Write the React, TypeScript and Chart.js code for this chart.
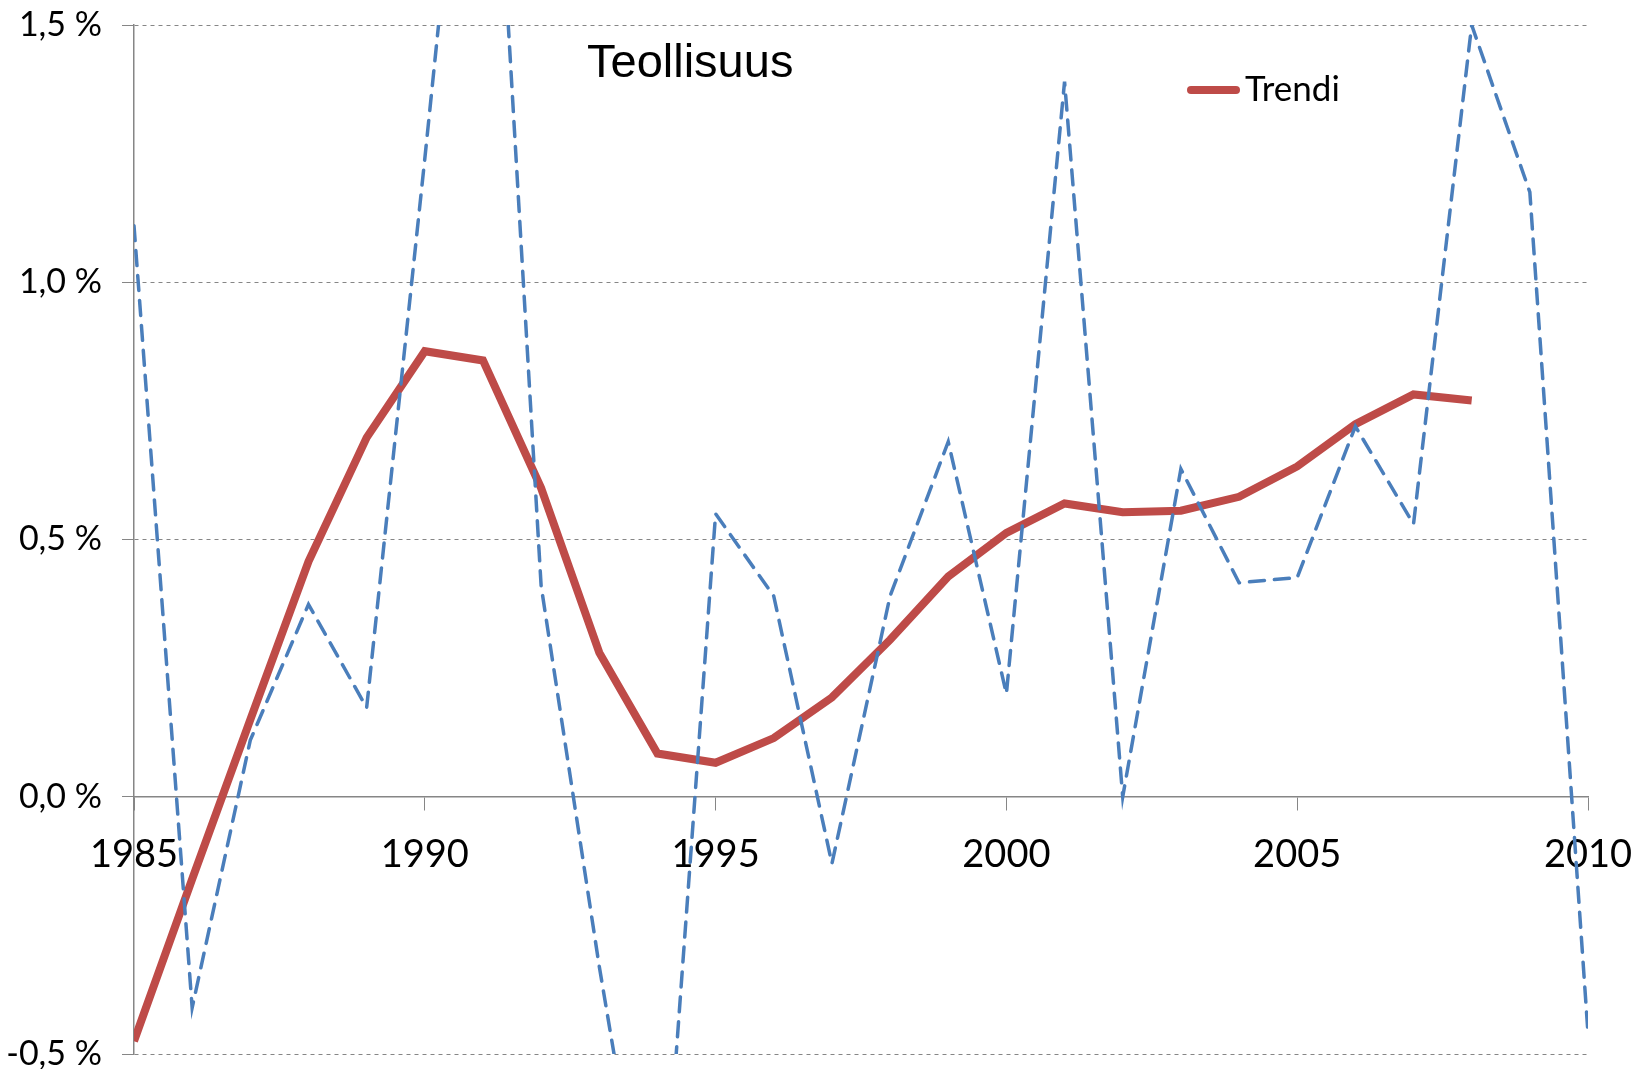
import React, { useEffect, useRef } from 'react';
import { Chart, registerables } from 'chart.js';

Chart.register(...registerables);

// ---- Data ----
const years = [
  1985, 1986, 1987, 1988, 1989, 1990, 1991, 1992, 1993, 1994, 1995, 1996, 1997,
  1998, 1999, 2000, 2001, 2002, 2003, 2004, 2005, 2006, 2007, 2008, 2009, 2010,
];
const actualValues = [
  1.11, -0.41, 0.11, 0.374, 0.173, 1.24, 2.34, 0.41, -0.33, -1.0, 0.55, 0.39, -0.13,
  0.39, 0.69, 0.20, 1.39, 0.0, 0.637, 0.416, 0.426, 0.72, 0.53, 1.50, 1.175, -0.46,
];
const trendValues = [
  -0.475, -0.16, 0.15, 0.457, 0.698, 0.866, 0.848, 0.60, 0.28, 0.084, 0.066, 0.114,
  0.193, 0.305, 0.428, 0.513, 0.57, 0.553, 0.556, 0.583, 0.642, 0.724, 0.782, 0.770,
];
const xTickYears = [1985, 1990, 1995, 2000, 2005, 2010];
const yTickValues = [-0.5, 0, 0.5, 1.0, 1.5];
const titleText = 'Teollisuus';
const trendLabel = 'Trendi';
const actualLabel = 'Teollisuus';

// ---- Styles ----
const BLUE = '#4A7EBB';
const RED = '#BE4B48';
const GRAY = '#868686';

const overlayPlugin = {
  id: 'overlayText',
  afterDraw(chart: any) {
    const ctx = chart.ctx;
    ctx.save();
    ctx.fillStyle = '#000';
    ctx.textAlign = 'left';
    ctx.textBaseline = 'alphabetic';
    ctx.font = '47px "Liberation Sans", Arial, sans-serif';
    ctx.fillText(titleText, 587, 77);
    // legend
    ctx.strokeStyle = RED;
    ctx.lineWidth = 8;
    ctx.lineCap = 'round';
    ctx.beginPath();
    ctx.moveTo(1191, 90);
    ctx.lineTo(1236, 90);
    ctx.stroke();
    ctx.font = '35px Lato, sans-serif';
    ctx.fillText(trendLabel, 1245, 101);
    ctx.restore();
  },
};

export default function App() {
  const canvasRef = useRef<HTMLCanvasElement | null>(null);

  useEffect(() => {
    const canvas = canvasRef.current;
    if (!canvas) return;
    const chart = new Chart(canvas, {
      type: 'line',
      data: {
        datasets: [
          {
            label: actualLabel,
            data: years.map((yr, i) => ({ x: yr, y: actualValues[i] })),
            borderColor: BLUE,
            borderWidth: 3.5,
            borderDash: [15, 10],
            borderCapStyle: 'round',
            pointRadius: 0,
            fill: false,
            tension: 0,
          },
          {
            label: trendLabel,
            data: trendValues.map((v, i) => ({ x: years[i], y: v })),
            borderColor: RED,
            borderWidth: 8,
            borderJoinStyle: 'miter',
            borderCapStyle: 'butt',
            pointRadius: 0,
            fill: false,
            tension: 0,
          },
        ],
      },
      options: {
        animation: false,
        responsive: false,
        layout: { padding: { left: 0, top: 25, right: 48, bottom: 15 } },
        plugins: {
          legend: { display: false },
          title: { display: false },
          tooltip: { enabled: false },
        },
        scales: {
          x: {
            type: 'linear',
            position: { y: 0 } as any,
            min: 1985,
            max: 2010,
            afterBuildTicks: (s: any) => {
              s.ticks = xTickYears.map((v) => ({ value: v }));
            },
            afterFit: (s: any) => {
              s.height = 0;
              s.paddingLeft = 0;
              s.paddingRight = 0;
              s.paddingTop = 0;
              s.paddingBottom = 0;
            },
            grid: {
              drawOnChartArea: false,
              drawTicks: true,
              tickLength: 13,
              color: GRAY,
              lineWidth: 1,
            },
            border: { display: true, color: GRAY, width: 1.5 },
            ticks: {
              font: { family: 'Lato', size: 38 },
              color: '#000',
              padding: 22,
              maxRotation: 0,
              autoSkip: false,
              callback: (v: any) => String(v),
            },
          },
          y: {
            type: 'linear',
            min: -0.5,
            max: 1.5,
            afterBuildTicks: (s: any) => {
              s.ticks = yTickValues.map((v) => ({ value: v }));
            },
            afterFit: (s: any) => {
              s.width = 134;
              s.paddingTop = 0;
              s.paddingBottom = 0;
            },
            grid: {
              color: GRAY,
              lineWidth: 1,
              drawTicks: true,
              tickLength: 12,
            },
            border: { display: true, color: GRAY, width: 1.5, dash: [4, 4] },
            ticks: {
              font: { family: 'Lato', size: 34, lineHeight: 0.9 },
              color: '#000',
              padding: 20,
              callback: (v: any) => Number(v).toFixed(1).replace('.', ',') + ' %',
            },
          },
        },
      } as any,
      plugins: [overlayPlugin],
    });
    return () => chart.destroy();
  }, []);

  return (
    <div style={{ position: 'absolute', left: 0, top: 0, width: 1636, height: 1069, background: '#fff' }}>
      <canvas ref={canvasRef} width={1636} height={1069} />
    </div>
  );
}
